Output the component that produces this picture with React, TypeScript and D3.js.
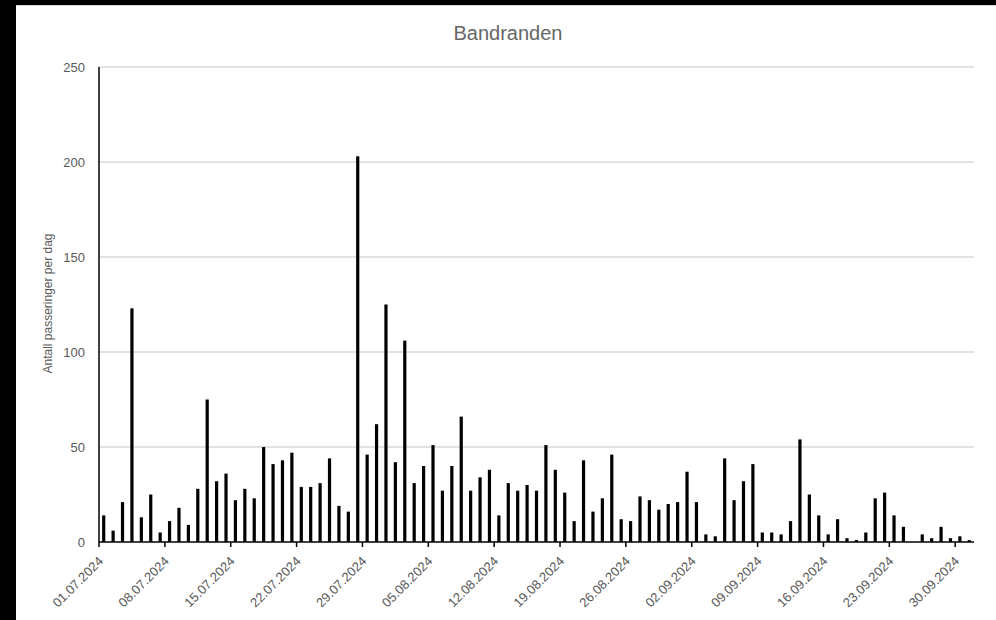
import React from "react";
import * as d3 from "d3";

const title = "Bandranden";
const yLabel = "Antall passeringer per dag";
const startDate = "2024-07-01";
const values: number[] = [
  14, 6, 21, 123, 13, 25, 5, 11, 18, 9,
  28, 75, 32, 36, 22, 28, 23, 50, 41, 43,
  47, 29, 29, 31, 44, 19, 16, 203, 46, 62,
  125, 42, 106, 31, 40, 51, 27, 40, 66, 27,
  34, 38, 14, 31, 27, 30, 27, 51, 38, 26,
  11, 43, 16, 23, 46, 12, 11, 24, 22, 17,
  20, 21, 37, 21, 4, 3, 44, 22, 32, 41,
  5, 5, 4, 11, 54, 25, 14, 4, 12, 2,
  1, 5, 23, 26, 14, 8, 0, 4, 2, 8,
  2, 3, 1,
];
const yTicks = [0, 50, 100, 150, 200, 250];

const W = 996;
const H = 620;
const left = 99;
const right = 974;
const top = 67;
const bottom = 542;

export default function App() {
  const start = new Date(startDate + "T00:00:00Z");
  const days = values.map((_, i) => d3.utcDay.offset(start, i));
  const end = d3.utcDay.offset(start, values.length);
  const x = d3.scaleUtc().domain([start, end]).range([left, right]);
  const y = d3.scaleLinear().domain([0, 250]).range([bottom, top]);
  const xTicks = d3.range(0, values.length, 7).map((i) => d3.utcDay.offset(start, i));
  const fmt = d3.utcFormat("%d.%m.%Y");
  const barW = 3.2;
  const grey = "#595959";
  const font = "'Liberation Sans', Arial, sans-serif";

  return (
    <svg
      width={W}
      height={H}
      style={{ position: "fixed", left: 0, top: 0, display: "block" }}
      fontFamily={font}
    >
      <rect x={0} y={0} width={W} height={H} fill="#000" />
      <rect x={16} y={5} width={W - 16} height={H - 5} fill="#fff" />
      <line x1={16} x2={W} y1={5.5} y2={5.5} stroke="#d9d9d9" strokeWidth={1} />
      <text x={508} y={40} textAnchor="middle" fontSize={20} fill="#666">
        {title}
      </text>
      {yTicks.map((t) => (
        <g key={t}>
          {t > 0 && (
            <line x1={left} x2={right} y1={y(t)} y2={y(t)} stroke="#d9d9d9" strokeWidth={1.3} />
          )}
          <text x={85} y={y(t) + 4.5} textAnchor="end" fontSize={13} fill={grey}>
            {t}
          </text>
        </g>
      ))}
      <text
        transform={`translate(52,${(top + bottom) / 2 - 1}) rotate(-90)`}
        textAnchor="middle"
        fontSize={12}
        fill={grey}
      >
        {yLabel}
      </text>
      {values.map((v, i) => {
        const cx = x(d3.utcHour.offset(days[i], 12));
        return (
          <rect key={i} x={cx - barW / 2} y={y(v)} width={barW} height={bottom - y(v)} fill="#000" />
        );
      })}
      <line x1={left} x2={left} y1={top} y2={bottom} stroke="#000" strokeWidth={1.5} />
      <line x1={left} x2={right} y1={bottom} y2={bottom} stroke="#000" strokeWidth={1.5} />
      {xTicks.map((d, i) => (
        <g key={i} transform={`translate(${x(d)},${bottom})`}>
          <line y1={0} y2={5} stroke="#000" strokeWidth={1.5} />
          <text
            transform="translate(5,20) rotate(-45)"
            textAnchor="end"
            fontSize={13}
            fill={grey}
          >
            {fmt(d)}
          </text>
        </g>
      ))}
    </svg>
  );
}
